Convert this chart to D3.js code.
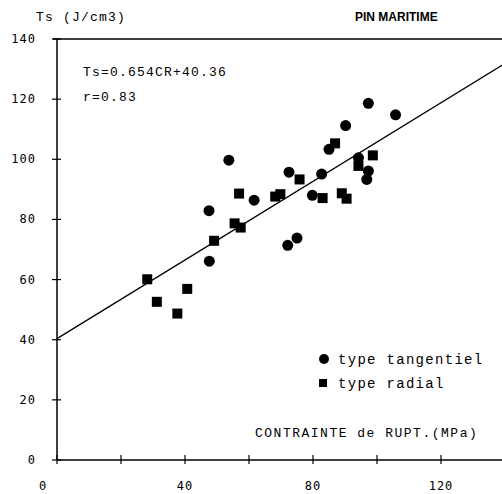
<!DOCTYPE html>
<html><head><meta charset="utf-8">
<script src="https://cdn.jsdelivr.net/npm/d3@7"></script>
<style>body{margin:0;background:#fff}svg{display:block}</style>
</head><body>
<svg id="c" width="502" height="494"></svg>
<script>
const tanX = [97.3,105.8,90.2,53.7,85.0,72.5,82.7,94.2,97.3,96.8,61.6,79.8,47.5,72.1,75.0,47.6];
const tanY = [118.6,114.8,111.2,99.7,103.3,95.7,95.1,100.5,96.1,93.3,86.4,88.0,82.9,71.4,73.8,66.1];
const radX = [86.9,98.7,94.2,75.8,56.9,69.8,68.2,83.0,89.0,90.5,55.5,57.4,49.1,28.2,40.7,31.2,37.6];
const radY = [105.3,101.3,97.8,93.3,88.6,88.4,87.6,87.1,88.7,86.9,78.7,77.3,72.9,60.1,56.9,52.6,48.7];
const xTicks = [0,20,40,60,80,100,120];
const xLabels = [0,40,80,120];
const yTicks = [0,20,40,60,80,100,120,140];
const slope = 0.654, intercept = 40.36;

const svg = d3.select('#c');
const x = d3.scaleLinear().domain([0,140]).range([57,505]);
const y = d3.scaleLinear().domain([0,140]).range([460,39]);
const mono = '"Liberation Mono", "Courier New", monospace';
const tickFont = '"DejaVu Sans Mono", monospace';

// axes lines
svg.append('line').attr('x1',x(0)).attr('x2',502).attr('y1',y(0)).attr('y2',y(0)).attr('stroke','#000').attr('stroke-width',1.5);
svg.append('line').attr('x1',x(0)).attr('x2',x(0)).attr('y1',y(0)).attr('y2',y(140)).attr('stroke','#000').attr('stroke-width',1.5);
svg.append('line').attr('x1',x(0)-4).attr('x2',502).attr('y1',y(140)).attr('y2',y(140)).attr('stroke','#000').attr('stroke-width',1.5);

// x ticks
svg.selectAll('.xt').data(xTicks).enter().append('line')
  .attr('x1',d=>x(d)).attr('x2',d=>x(d)).attr('y1',y(0)-5).attr('y2',y(0)+4).attr('stroke','#000').attr('stroke-width',1.2);
svg.selectAll('.xl').data(xLabels).enter().append('text')
  .attr('x',d=>x(d)-(d===0?14:0)).attr('y',494-4).attr('text-anchor','middle')
  .attr('font-family',tickFont).attr('font-size',12).attr('letter-spacing',1).text(d=>d);
// y ticks
svg.selectAll('.yt').data(yTicks).enter().append('line')
  .attr('x1',x(0)-5).attr('x2',x(0)+4).attr('y1',d=>y(d)).attr('y2',d=>y(d)).attr('stroke','#000').attr('stroke-width',1.2);
svg.selectAll('.yl').data(yTicks).enter().append('text')
  .attr('x',36).attr('y',d=>y(d)+4).attr('text-anchor','end')
  .attr('font-family',tickFont).attr('font-size',12).attr('letter-spacing',1).text(d=>d);

// regression line
svg.append('line').attr('x1',x(0)).attr('y1',y(intercept)).attr('x2',x(140)).attr('y2',y(slope*140+intercept))
  .attr('stroke','#000').attr('stroke-width',1.3);

// points
svg.selectAll('.tan').data(tanX).enter().append('circle')
  .attr('cx',d=>x(d)).attr('cy',(d,i)=>y(tanY[i])).attr('r',5.5).attr('fill','#000');
svg.selectAll('.rad').data(radX).enter().append('rect')
  .attr('x',d=>x(d)-5).attr('y',(d,i)=>y(radY[i])-5).attr('width',10).attr('height',10).attr('fill','#000');

// texts
svg.append('text').attr('x',36).attr('y',21).attr('font-family',mono).attr('font-size',13).attr('letter-spacing',1.2).text('Ts (J/cm3)');
svg.append('text').attr('x',355).attr('y',21).attr('font-family','"Liberation Sans", Arial, sans-serif').attr('font-weight','bold').attr('font-size',12).text('PIN MARITIME');
svg.append('text').attr('x',83).attr('y',76).attr('font-family',mono).attr('font-size',13).attr('letter-spacing',1.2).text('Ts=0.654CR+40.36');
svg.append('text').attr('x',83).attr('y',101).attr('font-family',mono).attr('font-size',13).attr('letter-spacing',1.2).text('r=0.83');
svg.append('text').attr('x',255).attr('y',437).attr('font-family',mono).attr('font-size',13).attr('letter-spacing',1.5).text('CONTRAINTE de RUPT.(MPa)');

// legend
svg.append('circle').attr('cx',324).attr('cy',359).attr('r',5).attr('fill','#000');
svg.append('text').attr('x',338).attr('y',364).attr('font-family',mono).attr('font-size',14).attr('letter-spacing',1.3).text('type tangentiel');
svg.append('rect').attr('x',319).attr('y',379).attr('width',8).attr('height',8).attr('fill','#000');
svg.append('text').attr('x',338).attr('y',388).attr('font-family',mono).attr('font-size',14).attr('letter-spacing',1.3).text('type radial');
</script>
</body></html>
